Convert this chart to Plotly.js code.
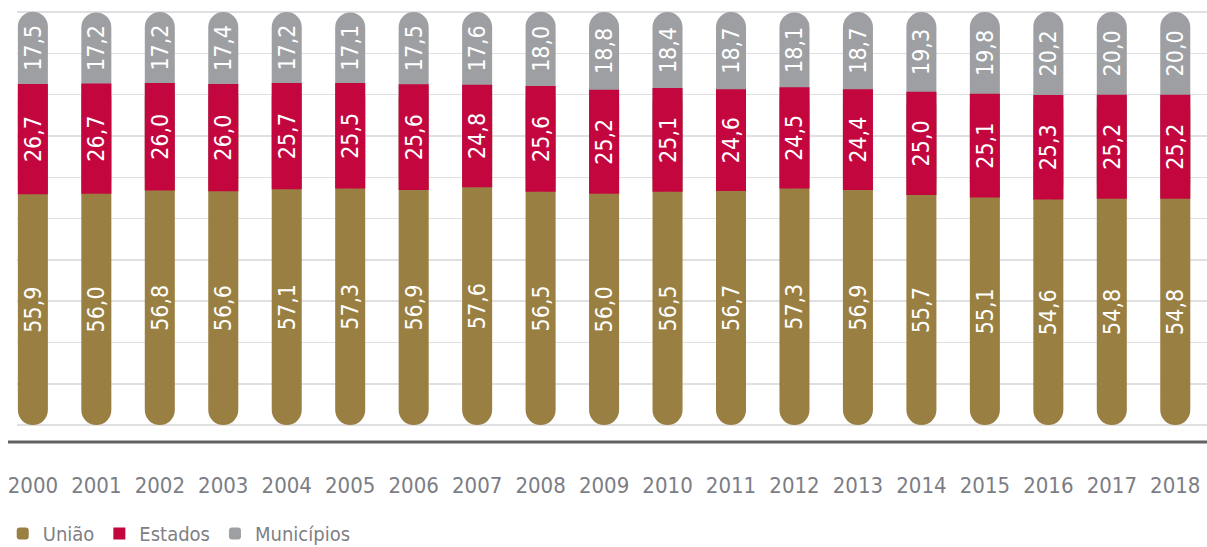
<!DOCTYPE html>
<html>
<head>
<meta charset="utf-8">
<script src="https://cdn.plot.ly/plotly-3.0.1.min.js"></script>
<style>
html,body{margin:0;padding:0;background:#fff;}
#chart{width:1207px;height:547px;}
</style>
</head>
<body>
<div id="chart"></div>
<script>
var years = ['2000','2001','2002','2003','2004','2005','2006','2007','2008','2009','2010','2011','2012','2013','2014','2015','2016','2017','2018'];
var uniao = [55.9,56.0,56.8,56.6,57.1,57.3,56.9,57.6,56.5,56.0,56.5,56.7,57.3,56.9,55.7,55.1,54.6,54.8,54.8];
var estados = [26.7,26.7,26.0,26.0,25.7,25.5,25.6,24.8,25.6,25.2,25.1,24.6,24.5,24.4,25.0,25.1,25.3,25.2,25.2];
var municipios = [17.5,17.2,17.2,17.4,17.2,17.1,17.5,17.6,18.0,18.8,18.4,18.7,18.1,18.7,19.3,19.8,20.2,20.0,20.0];

var FONT = "'Liberation Sans Narrow', 'DejaVu Sans Condensed', 'Arial Narrow', sans-serif";
var cOlive = '#9a7f42', cRed = '#c4063f', cGray = '#9d9fa2';

var zeros = uniao.map(function(){return 0;});
var ue = uniao.map(function(v,i){return v + estados[i];});   // top of Estados
var uem = ue.map(function(v,i){return v + municipios[i];});  // top of stack
var grayLen = uem.map(function(v,i){return v - uniao[i];});

var textFont = {family: FONT, size: 23, color: '#ffffff'};
var BW = 0.473;

var traces = [
  // visible pills (rounded ends); Estados drawn last hides inner rounding
  {type:'bar', name:'União', x: years, y: ue, base: zeros, width: BW,
   marker:{color:cOlive, cornerradius:'50%'}, legendrank:1, hoverinfo:'skip'},
  {type:'bar', name:'Municípios', x: years, y: grayLen, base: uniao, width: BW,
   marker:{color:cGray, cornerradius:'50%'}, legendrank:3, hoverinfo:'skip'},
  {type:'bar', name:'Estados', x: years, y: estados, base: uniao, width: BW,
   marker:{color:cRed}, legendrank:2, hoverinfo:'skip'},
  // value labels (transparent, wider so text is not shrunk)
  {type:'bar', x: years, y: uniao, base: zeros, width: 0.9, showlegend:false,
   marker:{color:'rgba(0,0,0,0)'}, texttemplate:'%{y:.1f}', textposition:'inside',
   insidetextanchor:'middle', textangle:-90, textfont:textFont, hoverinfo:'skip'},
  {type:'bar', x: years, y: estados, base: uniao, width: 0.9, showlegend:false,
   marker:{color:'rgba(0,0,0,0)'}, texttemplate:'%{y:.1f}', textposition:'inside',
   insidetextanchor:'middle', textangle:-90, textfont:textFont, hoverinfo:'skip'},
  {type:'bar', x: years, y: municipios, base: ue, width: 0.9, showlegend:false,
   marker:{color:'rgba(0,0,0,0)'}, texttemplate:'%{y:.1f}', textposition:'inside',
   insidetextanchor:'middle', textangle:-90, textfont:textFont, hoverinfo:'skip'}
];

var layout = {
  width:1207, height:547,
  margin:{l:17, r:0, t:10, b:105, autoexpand:false},
  paper_bgcolor:'#ffffff', plot_bgcolor:'#ffffff',
  barmode:'overlay',
  separators:',.',
  font:{family:FONT, color:'#7b7d84'},
  xaxis:{type:'category', range:[-0.25,18.5], showgrid:false, zeroline:false, showline:false,
         ticks:'outside', ticklen:24, tickcolor:'rgba(0,0,0,0)',
         tickfont:{family:FONT, size:22, color:'#7b7d84'}},
  yaxis:{range:[-4.1,100.5], dtick:10, tick0:0, showgrid:true, gridcolor:'#e0e0e2', gridwidth:1.5,
         zeroline:false, showticklabels:false, ticks:''},
  showlegend:true,
  legend:{orientation:'h', x:-0.012, xanchor:'left', y:-0.212, yanchor:'middle',
          font:{family:FONT, size:20, color:'#808084'}},
  shapes:[{type:'line', xref:'paper', yref:'paper', x0:-0.0076, x1:1, y0:0, y1:0,
           line:{color:'#626262', width:3}}]
};

Plotly.newPlot('chart', traces, layout, {staticPlot:true, displayModeBar:false});
</script>
</body>
</html>
